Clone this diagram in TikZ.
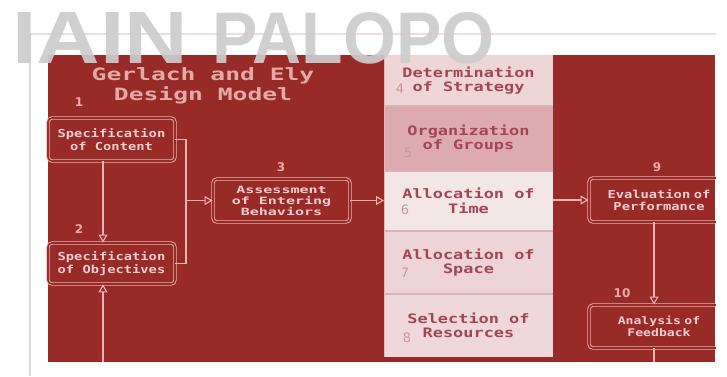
\documentclass[tikz,border=0pt]{standalone}
\usepackage{fontspec}
\usetikzlibrary{arrows.meta}
\newfontfamily\wmfont{Liberation Sans}
\newfontfamily\numfont{DejaVu Sans}
\newfontfamily\boxfont{DejaVu Sans Mono}[FakeStretch=1.25]
\newfontfamily\colfont{DejaVu Sans Mono}[FakeStretch=1.3]
\newfontfamily\widefont{DejaVu Sans Mono}[FakeStretch=1.5]
\newfontfamily\titlefont{DejaVu Sans Mono}[FakeStretch=1.45]
\definecolor{bgred}{RGB}{152,42,40}
\definecolor{boxline}{RGB}{236,178,176}
\definecolor{boxtext}{RGB}{246,206,204}
\definecolor{numcol}{RGB}{236,170,168}
\definecolor{coltext}{RGB}{165,68,84}
\definecolor{colnum}{RGB}{205,150,155}
\definecolor{rowA}{RGB}{238,214,214}
\definecolor{rowB}{RGB}{221,170,175}
\definecolor{rowC}{RGB}{243,230,230}
\definecolor{rowD}{RGB}{237,212,216}
\definecolor{rowE}{RGB}{238,216,220}
\definecolor{rowsep}{RGB}{214,180,185}
\definecolor{wmgray}{RGB}{205,205,205}
\definecolor{framegray}{RGB}{215,215,215}
\definecolor{framepink}{RGB}{240,220,222}
\definecolor{titlecol}{RGB}{228,170,168}
\tikzset{
  redbox/.style={draw=boxline, double=bgred, double distance=1.6pt, line width=0.9pt,
    rounded corners=4pt, text=boxtext, align=center, inner sep=0pt,
    font=\fontsize{11}{12.5}\selectfont\boxfont\bfseries},
  colrow/.style={minimum width=169pt, inner sep=0pt, outer sep=0pt, anchor=north,
    align=center, text=coltext, font=\fontsize{13}{14.5}\selectfont\colfont\bfseries},
  arr/.style={draw=boxline, line width=1.1pt, -{Triangle[open, length=8pt, width=9pt]}},
  conn/.style={draw=boxline, line width=1.1pt},
  num/.style={text=numcol, inner sep=0pt, font=\fontsize{12}{12}\selectfont\numfont\bfseries},
  colnumber/.style={text=colnum, inner sep=0pt, font=\fontsize{13}{13}\selectfont\numfont},
  wm/.style={text=wmgray, opacity=0.92, inner sep=0pt, anchor=north west,
    font=\wmfont\bfseries\fontsize{60}{60}\selectfont}
}
\begin{document}
\begin{tikzpicture}[x=1pt,y=-1pt]
\useasboundingbox (0,0) rectangle (727,376);
\fill[white] (0,0) rectangle (727,376);
% frame
\draw[framegray, line width=2pt] (30,34) -- (30,376);
\draw[framepink, line width=1.2pt] (30,34) -- (727,34);
% red panel
\fill[bgred] (48,55) rectangle (715,362);
% middle column
\node[colrow, fill=rowA, minimum height=51pt] (r4) at (468.5,55) {Determination\\of Strategy};
\node[colrow, fill=rowB, minimum height=65pt] (r5) at (468.5,106) {Organization\\of Groups};
\node[colrow, fill=rowC, minimum height=60pt] (r6) at (468.5,171) {Allocation of\\Time};
\node[colrow, fill=rowD, minimum height=63pt] (r7) at (468.5,231) {Allocation of\\Space};
\node[colrow, fill=rowE, minimum height=63pt] (r8) at (468.5,294) {Selection of\\Resources};
\draw[rowsep, line width=1.2pt] (r4.south west) -- (r4.south east);
\draw[rowsep, line width=1.2pt] (r5.south west) -- (r5.south east);
\draw[rowsep, line width=1.2pt] (r6.south west) -- (r6.south east);
\draw[rowsep, line width=1.2pt] (r7.south west) -- (r7.south east);
\draw[boxline, line width=1pt] (r4.north west) -- (r8.south west);
\node[colnumber] (n4) at (400,89) {4};
\node[colnumber] (n5) at (408,153) {5};
\node[colnumber] (n6) at (405,210) {6};
\node[colnumber] (n7) at (405,273) {7};
\node[colnumber] (n8) at (407,338) {8};
% title
\node[text=titlecol, align=center, inner sep=0pt, font=\fontsize{17}{20}\selectfont\titlefont\bfseries] (title) at (203,86) {Gerlach and Ely\\Design Model};
% left boxes
\node[redbox, minimum width=127pt, minimum height=43pt] (b1) at (111.5,139.5) {Specification\\of Content};
\node[redbox, minimum width=127pt, minimum height=41pt] (b2) at (111.5,263.5) {Specification\\of Objectives};
\node[redbox, minimum width=137pt, minimum height=43pt, font=\fontsize{10}{11}\selectfont\widefont\bfseries] (b3) at (281.5,200.5) {Assessment\\of Entering\\Behaviors};
\node[redbox, minimum width=140pt, minimum height=44pt, text width=128pt] (b9) at (659,200) {Evaluation of\\Performance};
\node[redbox, minimum width=140pt, minimum height=43pt, text width=128pt, font=\fontsize{10.5}{12}\selectfont\boxfont\bfseries] (b10) at (659,326.5) {Analysis of\\Feedback};
% numbers
\node[num] (n1) at (79,102) {1};
\node[num] (n2) at (79,229) {2};
\node[num] (n3) at (281,167) {3};
\node[num] (n9) at (657,167) {9};
\node[num] (n10) at (622,293) {10};
% connectors
\coordinate (bot1) at (103,362);
\coordinate (bot2) at (654,362);
\coordinate (jn) at (186,200.5);
\draw[arr] ([xshift=-8.5pt]b1.south) -- ([xshift=-8.5pt]b2.north);
\draw[arr] (bot1) -- ([xshift=-8.5pt]b2.south);
\draw[conn] (b1.east) -| (jn) |- (b2.east);
\draw[arr] (jn) -- (b3.west);
\draw[arr] (b3.east) -- (b3.east -| r6.west);
\draw[arr] (b9.west -| r6.east) -- (b9.west);
\draw[arr] ([xshift=-5pt]b9.south) -- ([xshift=-5pt]b10.north);
\draw[conn] ([xshift=-5pt]b10.south) -- (bot2);
% clip right side
\fill[white] (715.6,0) rectangle (727,376);
% watermark
\node[wm] (wm1) at (12,12) {\resizebox{176pt}{51pt}{IAIN}};
\node[wm] (wm2) at (212,12) {\resizebox{282pt}{51pt}{PALOPO}};
\end{tikzpicture}
\end{document}
